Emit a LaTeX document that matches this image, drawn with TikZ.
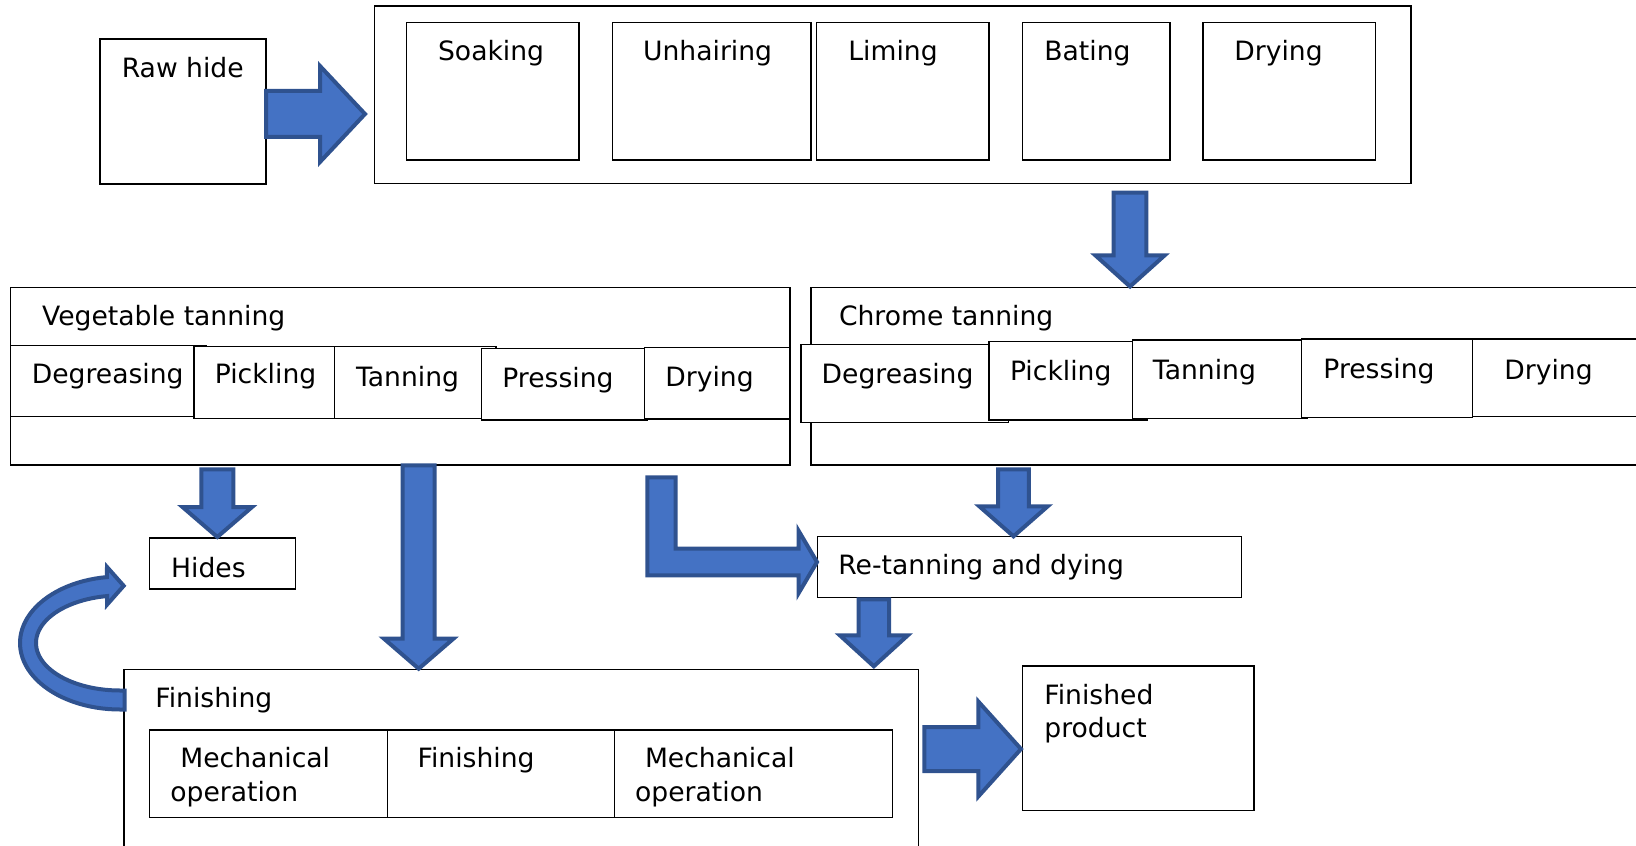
\documentclass[tikz,border=0pt]{standalone}
\usepackage{fontspec}
\setmainfont{DejaVu Sans}
\usetikzlibrary{calc}
\definecolor{afill}{HTML}{4472C4}
\definecolor{aline}{HTML}{2F528F}
\tikzset{
  box/.style={draw=black, fill=white, line width=0.75pt, inner sep=0pt, outer sep=0pt, anchor=north west},
  lbl/.style={inner sep=0pt, anchor=base west, font=\fontsize{13.3}{16}\selectfont},
  barrow/.style={fill=afill, draw=aline, line width=2pt, line join=miter},
}
% vertical (downward) block arrow: start, tip, shaft half, head half, head length (pt)
\newcommand{\vbarrow}[5]{%
  \draw[barrow] let \p1=(#1), \p2=(#2) in
    (\x2-#3pt,\y1) -- (\x2-#3pt,\y2+#5pt) -- (\x2-#4pt,\y2+#5pt) -- (\x2,\y2)
    -- (\x2+#4pt,\y2+#5pt) -- (\x2+#3pt,\y2+#5pt) -- (\x2+#3pt,\y1) -- cycle;}
% horizontal (rightward) block arrow
\newcommand{\hbarrow}[5]{%
  \draw[barrow] let \p1=(#1), \p2=(#2) in
    (\x1,\y2+#3pt) -- (\x2-#5pt,\y2+#3pt) -- (\x2-#5pt,\y2+#4pt) -- (\x2,\y2)
    -- (\x2-#5pt,\y2-#4pt) -- (\x2-#5pt,\y2-#3pt) -- (\x1,\y2-#3pt) -- cycle;}
\begin{document}
\begin{tikzpicture}[x=0.5pt,y=-0.5pt]
\useasboundingbox (0,0) rectangle (1636,845);
\clip (0,0) rectangle (1636,845);

% ---------- top row ----------
\node[box, minimum width=83pt, minimum height=72.5pt] (rawhide) at (100,39) {};
\node[lbl] (trawhide) at (121.4,77.5) {Raw hide};

\node[box, minimum width=518.35pt, minimum height=88.85pt] (top) at (374.3,6) {};
\node[box, minimum width=86.15pt, minimum height=68.85pt] (soak) at (406.7,22.3) {};
\node[box, minimum width=99.35pt, minimum height=68.85pt] (unhair) at (612.3,22.3) {};
\node[box, minimum width=86.15pt, minimum height=68.85pt] (lime) at (816.7,22.3) {};
\node[box, minimum width=73.75pt, minimum height=68.85pt] (bate) at (1022.5,22.3) {};
\node[box, minimum width=86.25pt, minimum height=68.85pt] (dry1) at (1203,22.3) {};
\node[lbl] (tsoak) at (437.7,61) {Soaking};
\node[lbl] (tunhair) at (642.7,61) {Unhairing};
\node[lbl] (tlime) at (848,61) {Liming};
\node[lbl] (tbate) at (1044,61) {Bating};
\node[lbl] (tdry1) at (1234,61) {Drying};

% ---------- vegetable tanning ----------
\node[box, minimum width=389.75pt, minimum height=88.85pt] (veg) at (10.5,287.3) {};
\node[lbl] (tveg) at (41.8,325) {Vegetable tanning};
\node[box, minimum width=98.05pt, minimum height=35.5pt] (vdeg) at (10.5,345.7) {};
\node[box, minimum width=78.2pt, minimum height=35.8pt] (vpick) at (194,346.7) {};
\node[box, minimum width=80.55pt, minimum height=35.8pt] (vtan) at (334.7,346.7) {};
\node[box, minimum width=82.65pt, minimum height=35.85pt] (vpress) at (481.7,348.3) {};
\node[box, minimum width=72.7pt, minimum height=35.65pt] (vdry) at (644.3,347.7) {};
\node[lbl] (tvdeg) at (31.4,383.7) {Degreasing};
\node[lbl] (tvpick) at (214.4,383.7) {Pickling};
\node[lbl] (tvtan) at (355.6,386) {Tanning};
\node[lbl] (tvpress) at (502,387) {Pressing};
\node[lbl] (tvdry) at (665,386) {Drying};

% ---------- chrome tanning ----------
\node[box, minimum width=417pt, minimum height=88.85pt] (chrome) at (811,287.3) {};
\node[lbl] (tchrome) at (838.6,325) {Chrome tanning};
\node[box, minimum width=103.85pt, minimum height=39pt] (cdeg) at (800.8,344.3) {};
\node[box, minimum width=79.35pt, minimum height=39.15pt] (cpick) at (989,341.7) {};
\node[box, minimum width=87.1pt, minimum height=39.15pt] (ctan) at (1132.6,340) {};
\node[box, minimum width=85.55pt, minimum height=39.15pt] (cpress) at (1301.4,339) {};
\node[box, minimum width=86.25pt, minimum height=38.85pt] (cdry) at (1472.5,339) {};
\node[lbl] (tcdeg) at (821.3,383.7) {Degreasing};
\node[lbl] (tcpick) at (1009.6,380.3) {Pickling};
\node[lbl] (tctan) at (1152.5,379.3) {Tanning};
\node[lbl] (tcpress) at (1323,378.7) {Pressing};
\node[lbl] (tcdry) at (1504,379.3) {Drying};

% ---------- middle ----------
\node[box, minimum width=73pt, minimum height=25.5pt] (hides) at (149.3,538) {};
\node[lbl] (thides) at (170.7,577) {Hides};
\node[box, minimum width=212.05pt, minimum height=30.3pt] (retan) at (817.4,536.7) {};
\node[lbl] (tretan) at (838,574.3) {Re-tanning and dying};

% ---------- finishing ----------
\node[box, minimum width=397.15pt, minimum height=92.85pt] (fin) at (124,669.3) {};
\node[lbl] (tfin) at (155,707.7) {Finishing};
\node[box, minimum width=119pt, minimum height=43.85pt] (mech1) at (149.3,730) {};
\node[box, minimum width=113.5pt, minimum height=43.85pt] (finin) at (387.3,730) {};
\node[box, minimum width=139.05pt, minimum height=43.85pt] (mech2) at (614.3,730) {};
\node[lbl] (tmech1a) at (180,767) {Mechanical};
\node[lbl] (tmech1b) at (170,801.7) {operation};
\node[lbl] (tfinin) at (417.3,767) {Finishing};
\node[lbl] (tmech2a) at (644.6,767) {Mechanical};
\node[lbl] (tmech2b) at (634.8,801.7) {operation};

\node[box, minimum width=115.85pt, minimum height=72.15pt] (prod) at (1022.3,666) {};
\node[lbl] (tprod1) at (1044,704.3) {Finished};
\node[lbl] (tprod2) at (1044,737.7) {product};

% ---------- block arrows ----------
\coordinate (a1s) at (266,114);   \coordinate (a1t) at (365,114);
\hbarrow{a1s}{a1t}{11.5}{24}{22.5}
\coordinate (a2s) at (1130,192.7); \coordinate (a2t) at (1130,286.5);
\vbarrow{a2s}{a2t}{8.15}{17.35}{15.6}
\coordinate (a3s) at (217.3,469.3); \coordinate (a3t) at (217.3,537);
\vbarrow{a3s}{a3t}{8}{17.4}{15}
\coordinate (a4s) at (418.7,465.3); \coordinate (a4t) at (418.7,668.7);
\vbarrow{a4s}{a4t}{8}{17.35}{15}
\coordinate (a5s) at (1013.5,469.3); \coordinate (a5t) at (1013.5,536.3);
\vbarrow{a5s}{a5t}{7.7}{17.1}{15}
\coordinate (a6s) at (873.8,599.3); \coordinate (a6t) at (873.8,666.3);
\vbarrow{a6s}{a6t}{7.6}{17}{15.5}
\coordinate (a7s) at (924.3,749); \coordinate (a7t) at (1021,749);
\hbarrow{a7s}{a7t}{11}{23.75}{21.35}

% L-shaped arrow: vegetable tanning -> re-tanning
\coordinate (lA) at (661.5,477.3); \coordinate (lB) at (817,562);
\draw[barrow] let \p1=(lA), \p2=(lB) in
  (\x1-7.1pt,\y1) -- (\x1+7.1pt,\y1) -- (\x1+7.1pt,\y2+6.65pt) -- (\x2-9.15pt,\y2+6.65pt)
  -- (\x2-9.15pt,\y2+15.5pt) -- (\x2,\y2) -- (\x2-9.15pt,\y2-15.5pt) -- (\x2-9.15pt,\y2-6.65pt)
  -- (\x1-7.1pt,\y2-6.65pt) -- cycle;

% curved arrow: finishing -> hides
\draw[barrow] (124.5,709.5)
  -- plot[domain=90:262.5, samples=50, variable=\t] ({120+100*cos(\t)},{643+66.5*sin(\t)})
  -- (107,567) -- (123.7,585.8) -- (107,604.7)
  -- plot[domain=261.1:90, samples=50, variable=\t] ({120+84*cos(\t)},{643+47.5*sin(\t)})
  -- (124.5,690.5) -- cycle;
\end{tikzpicture}
\end{document}
